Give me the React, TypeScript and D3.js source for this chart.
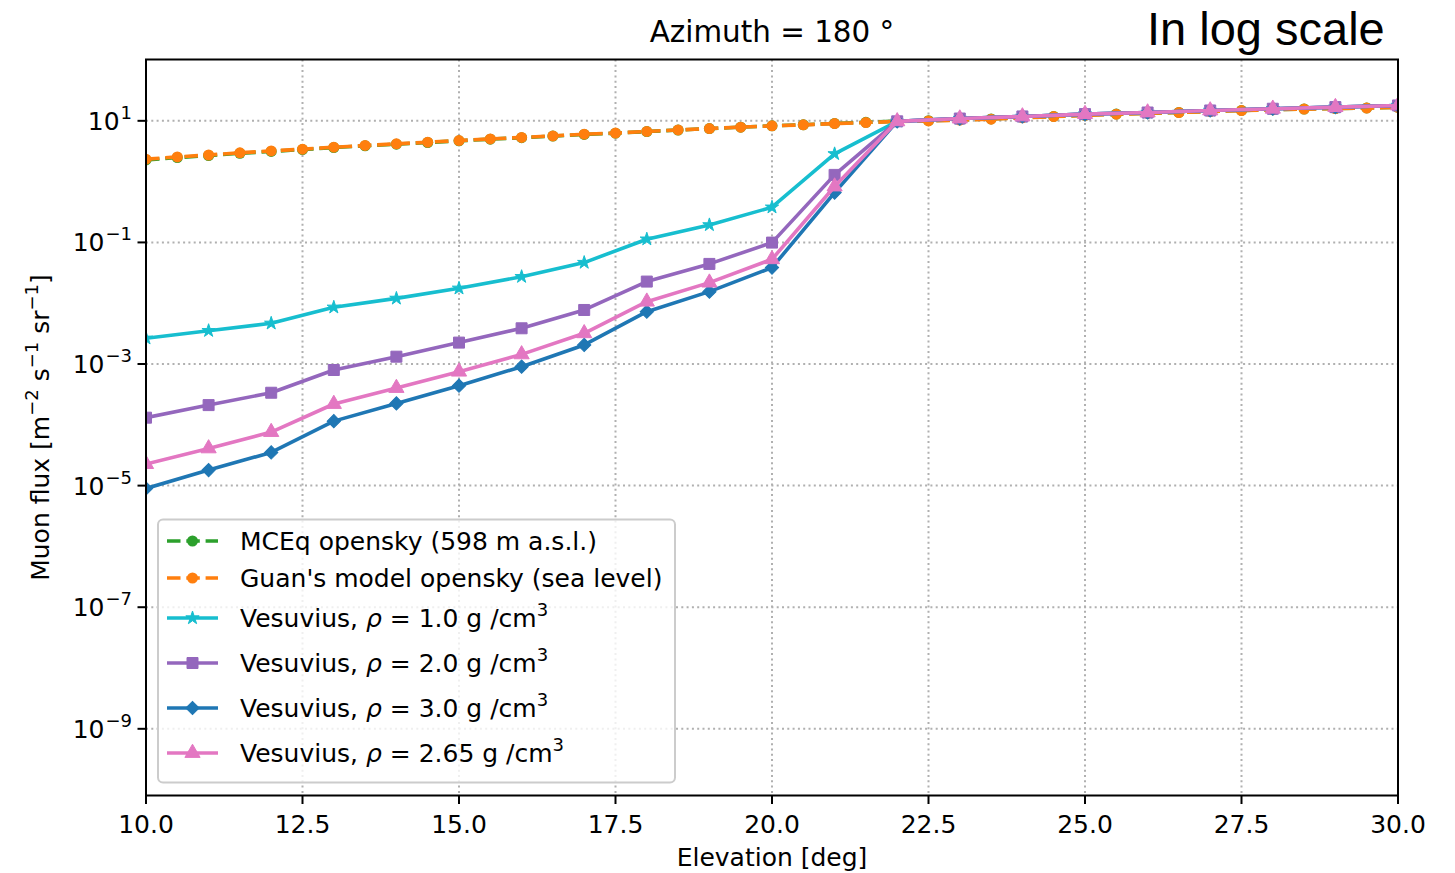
import React from "react";
import * as d3 from "d3";

const openskyElev = [10, 10.5, 11, 11.5, 12, 12.5, 13, 13.5, 14, 14.5, 15, 15.5, 16, 16.5, 17, 17.5, 18, 18.5, 19, 19.5, 20, 20.5, 21, 21.5, 22, 22.5, 23, 23.5, 24, 24.5, 25, 25.5, 26, 26.5, 27, 27.5, 28, 28.5, 29, 29.5, 30];
const mceqFlux = [2.27, 2.49, 2.68, 2.92, 3.14, 3.37, 3.63, 3.88, 4.13, 4.4, 4.69, 4.99, 5.28, 5.61, 5.97, 6.27, 6.66, 7.06, 7.45, 7.86, 8.28, 8.62, 9.05, 9.45, 9.85, 10.05, 10.4, 10.75, 11.3, 11.8, 12.35, 12.9, 13.35, 13.75, 14.25, 14.8, 15.25, 15.65, 15.95, 16.3, 16.7];
const guanFlux = [2.34, 2.55, 2.74, 2.98, 3.2, 3.42, 3.68, 3.93, 4.18, 4.45, 4.74, 5.04, 5.32, 5.65, 6.02, 6.3, 6.68, 7.08, 7.46, 7.86, 8.26, 8.58, 9.0, 9.38, 9.75, 9.95, 10.3, 10.65, 11.2, 11.75, 12.3, 12.85, 13.3, 13.7, 14.2, 14.75, 15.2, 15.6, 15.9, 16.2, 16.6];

const vesElev = [10, 11, 12, 13, 14, 15, 16, 17, 18, 19, 20, 21, 22, 23, 24, 25, 26, 27, 28, 29, 30];
const rho10 = [2.65e-3, 3.53e-3, 4.67e-3, 8.57e-3, 1.2e-2, 1.76e-2, 2.73e-2, 4.66e-2, 0.113, 0.194, 0.379, 2.86, 9.8, 10.9, 11.8, 12.9, 13.7, 14.8, 15.8, 16.8, 17.9];
const rho20 = [1.31e-4, 2.11e-4, 3.37e-4, 7.97e-4, 1.32e-3, 2.25e-3, 3.87e-3, 7.74e-3, 2.27e-2, 4.43e-2, 9.93e-2, 1.29, 9.8, 10.9, 11.8, 12.9, 13.7, 14.8, 15.8, 16.8, 17.9];
const rho30 = [8.97e-6, 1.8e-5, 3.51e-5, 1.15e-4, 2.25e-4, 4.4e-4, 9.04e-4, 2.06e-3, 7.26e-3, 1.55e-2, 3.85e-2, 0.66, 9.8, 10.9, 11.8, 12.9, 13.7, 14.8, 15.8, 16.8, 17.9];
const rho265 = [2.26e-5, 4.09e-5, 7.6e-5, 2.2e-4, 4.03e-4, 7.48e-4, 1.44e-3, 3.2e-3, 1.06e-2, 2.18e-2, 5.28e-2, 0.83, 9.8, 10.9, 11.8, 12.9, 13.7, 14.8, 15.8, 16.8, 17.9];

const xTicks = [10, 12.5, 15, 17.5, 20, 22.5, 25, 27.5, 30];
const yTickExps = [1, -1, -3, -5, -7, -9];

const W = 1455, H = 873;
const L = 146, R = 1398, T = 59.5, B = 795.5;
const FONT = "DejaVu Sans, sans-serif";
const FS = 25;
const SUP = 18;

type Series = {
  key: string;
  label: string;
  rho?: string;
  color: string;
  dashed: boolean;
  marker: "circle" | "star" | "square" | "diamond" | "triangle";
  x: number[];
  y: number[];
};

const series: Series[] = [
  { key: "mceq", label: "MCEq opensky (598 m a.s.l.)", color: "#2ca02c", dashed: true, marker: "circle", x: openskyElev, y: mceqFlux },
  { key: "guan", label: "Guan's model opensky (sea level)", color: "#ff7f0e", dashed: true, marker: "circle", x: openskyElev, y: guanFlux },
  { key: "r1", label: "Vesuvius, ", rho: "1.0", color: "#17becf", dashed: false, marker: "star", x: vesElev, y: rho10 },
  { key: "r2", label: "Vesuvius, ", rho: "2.0", color: "#9467bd", dashed: false, marker: "square", x: vesElev, y: rho20 },
  { key: "r3", label: "Vesuvius, ", rho: "3.0", color: "#1f77b4", dashed: false, marker: "diamond", x: vesElev, y: rho30 },
  { key: "r265", label: "Vesuvius, ", rho: "2.65", color: "#e377c2", dashed: false, marker: "triangle", x: vesElev, y: rho265 },
];

const legendRowsY = [541, 578, 618, 663, 708, 753];

function Marker({ kind, cx, cy, color }: { kind: Series["marker"]; cx: number; cy: number; color: string }) {
  if (kind === "circle") return <circle cx={cx} cy={cy} r={5.5} fill={color} />;
  let sym: d3.SymbolType = d3.symbolSquare;
  let size = 121;
  let rot = 0;
  if (kind === "star") { sym = d3.symbolStar; size = 55; }
  if (kind === "diamond") { sym = d3.symbolSquare; size = 88; rot = 45; }
  if (kind === "triangle") { sym = d3.symbolTriangle; size = 100; }
  const path = d3.symbol(sym, size)() || "";
  return (
    <path d={path} transform={`translate(${cx},${cy}) rotate(${rot})`} fill={color} stroke={color} strokeWidth={1} />
  );
}

export default function App() {
  const x = d3.scaleLinear().domain([10, 30]).range([L, R]);
  const y = d3.scaleLog().domain([8e-11, 102]).range([B, T]);
  const line = d3.line<[number, number]>().x((d) => x(d[0])).y((d) => y(d[1]));

  return (
    <svg width={W} height={H} style={{ position: "absolute", left: 0, top: 0, background: "#fff" }} fontFamily={FONT}>
      <defs>
        <clipPath id="plotclip">
          <rect x={L} y={T} width={R - L} height={B - T} />
        </clipPath>
      </defs>
      {/* grid */}
      <g stroke="#b0b0b0" strokeWidth={2} strokeDasharray="2,3.3">
        {xTicks.map((t) => (
          <line key={"gx" + t} x1={x(t)} x2={x(t)} y1={T} y2={B} />
        ))}
        {yTickExps.map((e) => (
          <line key={"gy" + e} x1={L} x2={R} y1={y(Math.pow(10, e))} y2={y(Math.pow(10, e))} />
        ))}
      </g>
      {/* series */}
      <g clipPath="url(#plotclip)">
        {series.map((s) => {
          const pts = s.x.map((v, i) => [v, s.y[i]] as [number, number]);
          return (
            <g key={s.key}>
              <path d={line(pts) || ""} fill="none" stroke={s.color} strokeWidth={3.6} strokeDasharray={s.dashed ? "13.5,5.8" : undefined} strokeLinejoin="round" />
              {pts.map((p, i) => (
                <Marker key={i} kind={s.marker} cx={x(p[0])} cy={y(p[1])} color={s.color} />
              ))}
            </g>
          );
        })}
      </g>
      {/* spines */}
      <rect x={L} y={T} width={R - L} height={B - T} fill="none" stroke="#000" strokeWidth={2} />
      {/* x ticks */}
      {xTicks.map((t) => (
        <g key={"xt" + t}>
          <line x1={x(t)} x2={x(t)} y1={B} y2={B + 8.5} stroke="#000" strokeWidth={2} />
          <text x={x(t)} y={B + 37} textAnchor="middle" fontSize={FS} fill="#000">{t.toFixed(1)}</text>
        </g>
      ))}
      {/* y ticks */}
      {yTickExps.map((e) => {
        const yy = y(Math.pow(10, e));
        const exp = e < 0 ? "\u2212" + Math.abs(e) : String(e);
        return (
          <g key={"yt" + e}>
            <line x1={L - 8.5} x2={L} y1={yy} y2={yy} stroke="#000" strokeWidth={2} />
            <text x={132} y={yy + 9} textAnchor="end" fontSize={FS} fill="#000">
              10<tspan fontSize={SUP} dy={-11} dx={1}>{exp}</tspan>
            </text>
          </g>
        );
      })}
      {/* axis labels */}
      <text x={(L + R) / 2} y={866} textAnchor="middle" fontSize={FS} fill="#000">Elevation [deg]</text>
      <text transform={`translate(49, ${(T + B) / 2}) rotate(-90)`} textAnchor="middle" fontSize={FS} fill="#000">
        Muon flux [m<tspan fontSize={SUP} dy={-11}>{"\u22122"}</tspan><tspan dy={11}> s</tspan><tspan fontSize={SUP} dy={-11}>{"\u22121"}</tspan><tspan dy={11}> sr</tspan><tspan fontSize={SUP} dy={-11}>{"\u22121"}</tspan><tspan dy={11}>]</tspan>
      </text>
      {/* title */}
      <text x={(L + R) / 2} y={42} textAnchor="middle" fontSize={29.4} fill="#000">Azimuth = 180 °</text>
      <text x={1147} y={45} fontSize={47} fontFamily="Liberation Sans, Arial, sans-serif" fill="#000">In log scale</text>
      {/* legend */}
      <g>
        <rect x={158} y={519.5} width={517} height={263} rx={5} fill="#fff" fillOpacity={0.8} stroke="#cccccc" strokeWidth={2} />
        {series.map((s, i) => {
          const cy = legendRowsY[i];
          return (
            <g key={"lg" + s.key}>
              <line x1={167} x2={218} y1={cy} y2={cy} stroke={s.color} strokeWidth={3.6} strokeDasharray={s.dashed ? "13.5,5.8" : undefined} />
              <Marker kind={s.marker} cx={192.5} cy={cy} color={s.color} />
              <text x={240} y={cy + 9} fontSize={FS} fill="#000">
                {s.label}
                {s.rho ? (
                  <>
                    <tspan fontStyle="italic">ρ</tspan>
                    <tspan>{` = ${s.rho} g /cm`}</tspan>
                    <tspan fontSize={SUP} dy={-11}>3</tspan>
                  </>
                ) : null}
              </text>
            </g>
          );
        })}
      </g>
    </svg>
  );
}
